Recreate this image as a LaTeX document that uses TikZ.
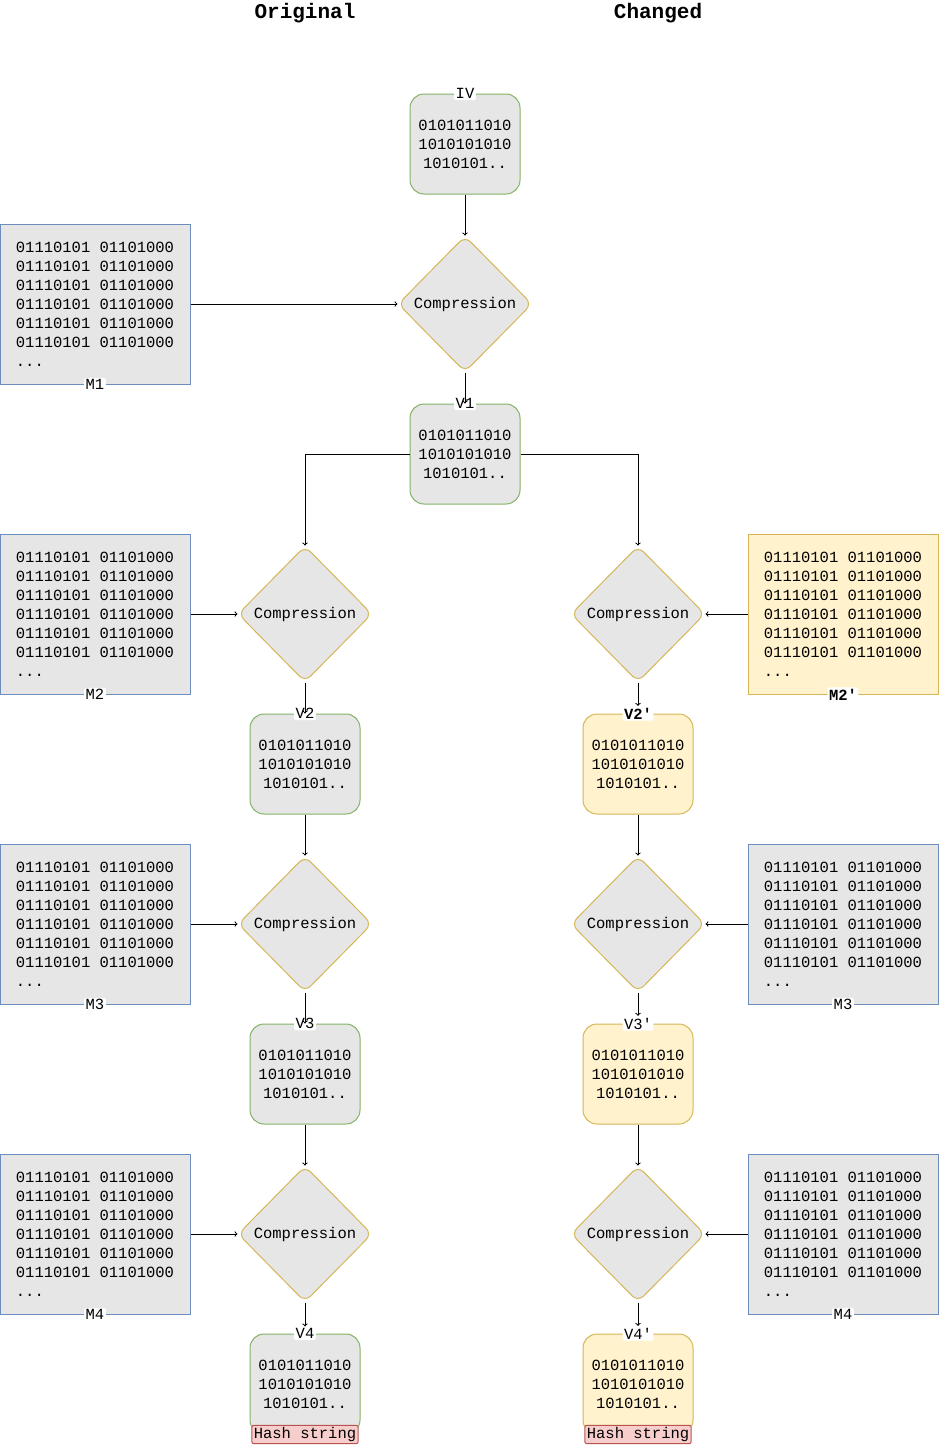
\documentclass[tikz,border=0pt]{standalone}
\usepackage{fontspec}
\setmonofont{Liberation Mono}
\usetikzlibrary{shapes.geometric}
\definecolor{boxgray}{HTML}{E6E6E6}
\definecolor{vgreen}{HTML}{82B366}
\definecolor{cyellow}{HTML}{D6B656}
\definecolor{fyellow}{HTML}{FFF2CC}
\definecolor{mblue}{HTML}{6C8EBF}
\definecolor{hred}{HTML}{B85450}
\definecolor{fred}{HTML}{F8CECC}
\newcommand{\vbits}{0101011010\\1010101010\\1010101..}
\newcommand{\mrow}{01110101 01101000}
\newcommand{\mbits}{\mrow\\\mrow\\\mrow\\\mrow\\\mrow\\\mrow\\...}
\begin{document}
\begin{tikzpicture}[x=1pt, y=-1pt, ->, line width=1pt,
    font=\ttfamily\fontsize{15.5}{19}\selectfont,
    vbox/.style={draw=vgreen, fill=boxgray, rounded corners=14pt, minimum width=110pt, minimum height=100pt, align=center, text depth=0pt, inner ysep=0pt, yshift=0pt},
    vchg/.style={vbox, draw=cyellow, fill=fyellow},
    msg/.style={draw=mblue, fill=boxgray, minimum width=190pt, minimum height=160pt, align=left, inner xsep=10pt},
    mchg/.style={msg, draw=cyellow, fill=fyellow},
    comp/.style={diamond, draw=cyellow, fill=boxgray, minimum width=134pt, minimum height=136pt, inner sep=0pt, rounded corners=8pt},
    tag/.style={fill=white, inner sep=1.5pt, rounded corners=2pt},
    hash/.style={draw=hred, fill=fred, inner sep=2pt, rounded corners=2pt},
    title/.style={font=\ttfamily\bfseries\fontsize{21}{24}\selectfont}]
    \useasboundingbox (0,0) rectangle (939,1445);

    \node[title] (orig) at (305,13) {Original};
    \node[title] (chg) at (658,13) {Changed};

    % shared start
    \node[vbox] (iv) at (465,144) {\vbits};
    \node[comp] (c1) at (465,304) {Compression};
    \node[msg] (m1) at (95,304) {\mbits};
    \node[vbox] (v1) at (465,454) {\vbits};

    % original column
    \node[comp] (c2) at (305,614) {Compression};
    \node[msg] (m2) at (95,614) {\mbits};
    \node[vbox] (v2) at (305,764) {\vbits};
    \node[comp] (c3) at (305,924) {Compression};
    \node[msg] (m3) at (95,924) {\mbits};
    \node[vbox] (v3) at (305,1074) {\vbits};
    \node[comp] (c4) at (305,1234) {Compression};
    \node[msg] (m4) at (95,1234) {\mbits};
    \node[vbox] (v4) at (305,1384) {\vbits};

    % changed column
    \node[comp] (d2) at (638,614) {Compression};
    \node[mchg] (n2) at (843,614) {\mbits};
    \node[vchg] (w2) at (638,764) {\vbits};
    \node[comp] (d3) at (638,924) {Compression};
    \node[msg] (n3) at (843,924) {\mbits};
    \node[vchg] (w3) at (638,1074) {\vbits};
    \node[comp] (d4) at (638,1234) {Compression};
    \node[msg] (n4) at (843,1234) {\mbits};
    \node[vchg] (w4) at (638,1384) {\vbits};

    % labels on the borders
    \node[tag] (liv) at (iv.north) {IV};
    \node[tag] (lv1) at (v1.north) {V1};
    \node[tag] (lv2) at (v2.north) {V2};
    \node[tag] (lv3) at (v3.north) {V3};
    \node[tag] (lv4) at (v4.north) {V4};
    \node[tag] (lw2) at (w2.north) {\textbf{V2'}};
    \node[tag] (lw3) at (w3.north) {V3'};
    \node[tag] (lw4) at (w4.north) {V4'};
    \node[tag] (lm1) at (m1.south) {M1};
    \node[tag] (lm2) at (m2.south) {M2};
    \node[tag] (lm3) at (m3.south) {M3};
    \node[tag] (lm4) at (m4.south) {M4};
    \node[tag] (ln2) at (n2.south) {\textbf{M2'}};
    \node[tag] (ln3) at (n3.south) {M3};
    \node[tag] (ln4) at (n4.south) {M4};
    \node[hash] (h1) at (v4.south) {Hash string};
    \node[hash] (h2) at (w4.south) {Hash string};

    \path
        (iv) edge (c1)
        (m1) edge (c1)
        (c1) edge (v1)
        (m2) edge (c2)  (c2) edge (v2)  (v2) edge (c3)
        (m3) edge (c3)  (c3) edge (v3)  (v3) edge (c4)
        (m4) edge (c4)  (c4) edge (lv4)
        (n2) edge (d2)  (d2) edge (lw2) (w2) edge (d3)
        (n3) edge (d3)  (d3) edge (lw3) (w3) edge (d4)
        (n4) edge (d4)  (d4) edge (lw4)
        ;
    \draw (v1.west) -| (c2.north);
    \draw (v1.east) -| (d2.north);
\end{tikzpicture}
\end{document}
